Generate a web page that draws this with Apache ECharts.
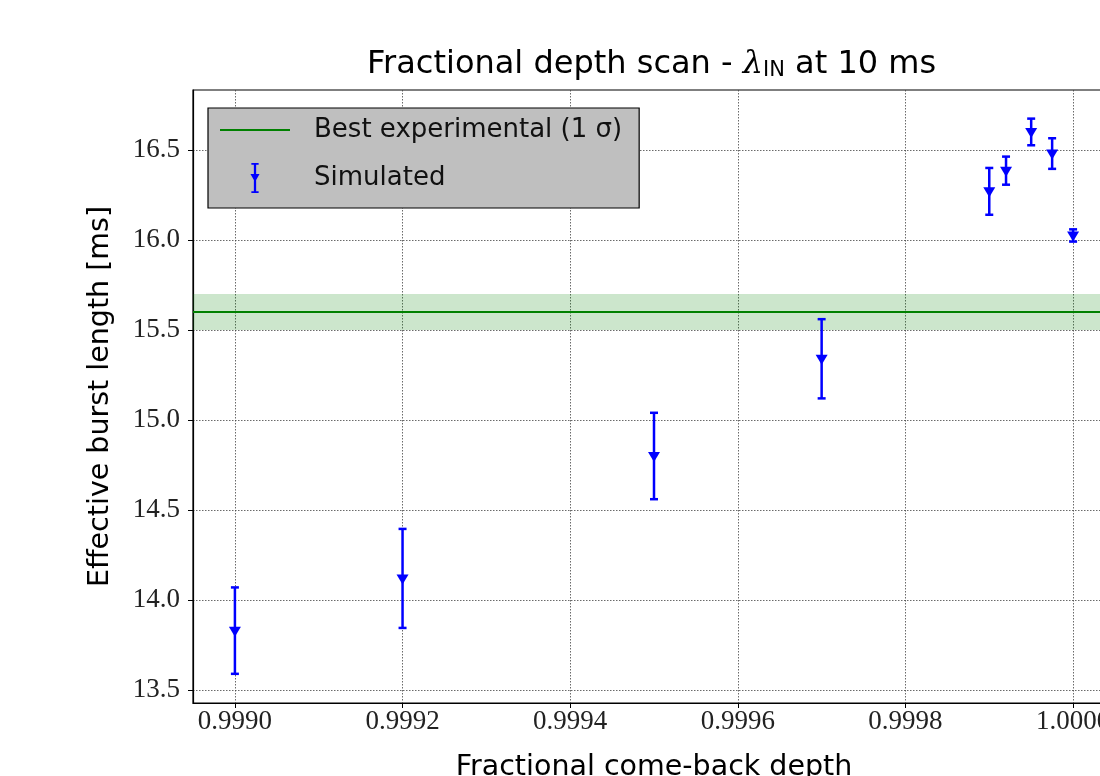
<!DOCTYPE html>
<html>
<head>
<meta charset="utf-8">
<script src="https://cdn.jsdelivr.net/npm/echarts@6/dist/echarts.min.js"></script>
<style>html,body{margin:0;padding:0;background:#fff;}#c{width:1100px;height:776px;}</style>
</head>
<body>
<div id="c"></div>
<script>
// ---- data ----
const depth = [0.9990, 0.9992, 0.9995, 0.9997, 0.9999, 0.99992, 0.99995, 0.999975, 1.0000];
const burstLength = [13.83, 14.12, 14.80, 15.34, 16.27, 16.385, 16.60, 16.48, 16.025];
const burstError = [0.24, 0.275, 0.24, 0.22, 0.13, 0.078, 0.074, 0.085, 0.034];
const bestValue = 15.60;
const bestSigma = 0.10;
const xTicks = [0.9990, 0.9992, 0.9994, 0.9996, 0.9998, 1.0000];
const yTicks = [13.5, 14.0, 14.5, 15.0, 15.5, 16.0, 16.5];
const xRange = [0.99895, 1.00005];
const yRange = [13.428, 16.833];
const bestName = 'Best experimental (1 σ)';
const simName = 'Simulated';

const errData = depth.map((x, i) => [x, burstLength[i], burstLength[i] - burstError[i], burstLength[i] + burstError[i]]);

const SANS = 'DejaVu Sans';
const SERIF = 'Liberation Serif';
const BLUE = '#0000ff';
const GREEN = '#008000';

const chart = echarts.init(document.getElementById('c'), null, {renderer: 'canvas'});
chart.setOption({
  animation: false,
  backgroundColor: '#ffffff',
  title: {
    text: '{a|Fractional depth scan - }{l|λ}{s|IN}{a| at 10 ms}',
    left: 362,
    top: 36,
    textStyle: {
      fontWeight: 'normal',
      rich: {
        a: {fontFamily: SANS, fontSize: 32, fontWeight: 'normal', color: '#000', lineHeight: 40, verticalAlign: 'bottom'},
        l: {fontFamily: 'DejaVu Serif', fontStyle: 'italic', fontWeight: 'normal', fontSize: 32, color: '#000', lineHeight: 40, verticalAlign: 'bottom'},
        s: {fontFamily: SANS, fontSize: 21, fontWeight: 'normal', color: '#000', lineHeight: 30, verticalAlign: 'bottom'}
      }
    }
  },
  legend: {
    orient: 'vertical',
    left: 208,
    top: 108,
    padding: [9, 17, 15, 12],
    itemGap: 20,
    itemWidth: 70,
    itemHeight: 30,
    backgroundColor: '#bfbfbf',
    borderColor: '#000',
    borderWidth: 1.2,
    borderRadius: 0,
    textStyle: {fontFamily: SANS, fontSize: 26, color: '#111', padding: [0, 0, 0, 19], width: 290, overflow: 'none'},
    data: [
      {name: bestName, icon: 'path://M0 0H70V2H0Z'},
      {name: simName, icon: 'path://M3.75 0H6.25V33H3.75Z M1 0H9V2H1Z M1 31H9V33H1Z M0 12L10 12L5 21Z'}
    ]
  },
  grid: {
    left: 193, top: 90, right: -15, bottom: 73,
    containLabel: false,
    outerBoundsMode: 'none',
    show: true, borderColor: '#000', borderWidth: 1.2, backgroundColor: 'transparent'
  },
  xAxis: {
    type: 'value',
    min: xRange[0], max: xRange[1],
    name: 'Fractional come-back depth',
    nameLocation: 'middle',
    nameGap: 50,
    nameTextStyle: {fontFamily: SANS, fontSize: 28.5, color: '#000'},
    axisLine: {show: true, lineStyle: {color: '#000', width: 1.2}},
    axisTick: {show: true, length: 5, customValues: xTicks, lineStyle: {color: '#000', width: 1}},
    axisLabel: {customValues: xTicks, fontFamily: SERIF, fontSize: 27, color: '#222', margin: 5,
      formatter: v => v.toFixed(4)},
    splitLine: {show: true, lineStyle: {color: '#444', width: 0.8, type: [1.5, 1.5]}}
  },
  yAxis: {
    type: 'value',
    min: yRange[0], max: yRange[1],
    name: 'Effective burst length [ms]',
    nameLocation: 'middle',
    nameGap: 78,
    nameTextStyle: {fontFamily: SANS, fontSize: 28.5, color: '#000'},
    axisLine: {show: true, lineStyle: {color: '#000', width: 1.2}},
    axisTick: {show: true, length: 5, customValues: yTicks, lineStyle: {color: '#000', width: 1}},
    axisLabel: {customValues: yTicks, fontFamily: SERIF, fontSize: 27, color: '#222', margin: 13,
      formatter: v => v.toFixed(1)},
    splitLine: {show: true, lineStyle: {color: '#444', width: 0.8, type: [1.5, 1.5]}}
  },
  series: [
    {
      name: bestName,
      type: 'line',
      data: [],
      symbol: 'none',
      color: GREEN,
      lineStyle: {color: GREEN, width: 2},
      markArea: {
        silent: true,
        itemStyle: {color: 'rgba(0,128,0,0.2)'},
        data: [[{yAxis: bestValue - bestSigma}, {yAxis: bestValue + bestSigma}]]
      },
      markLine: {
        silent: true,
        symbol: 'none',
        label: {show: false},
        lineStyle: {color: GREEN, width: 2, type: 'solid'},
        data: [{yAxis: bestValue}]
      }
    },
    {
      name: simName,
      type: 'custom',
      color: BLUE,
      itemStyle: {color: BLUE},
      data: errData,
      encode: {x: 0, y: [1, 2, 3]},
      renderItem: function (params, api) {
        const x = api.value(0);
        const pC = api.coord([x, api.value(1)]);
        const pL = api.coord([x, api.value(2)]);
        const pH = api.coord([x, api.value(3)]);
        const cw = 4;
        const st = {stroke: BLUE, lineWidth: 2.5};
        return {
          type: 'group',
          children: [
            {type: 'line', shape: {x1: pH[0], y1: pH[1], x2: pL[0], y2: pL[1]}, style: st},
            {type: 'line', shape: {x1: pH[0] - cw, y1: pH[1], x2: pH[0] + cw, y2: pH[1]}, style: st},
            {type: 'line', shape: {x1: pL[0] - cw, y1: pL[1], x2: pL[0] + cw, y2: pL[1]}, style: st},
            {type: 'polygon', shape: {points: [[pC[0] - 6, pC[1] - 4], [pC[0] + 6, pC[1] - 4], [pC[0], pC[1] + 6]]},
              style: {fill: BLUE}}
          ]
        };
      }
    }
  ]
});
</script>
</body>
</html>
